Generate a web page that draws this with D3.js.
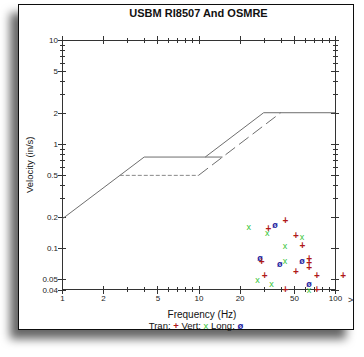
<!DOCTYPE html>
<html><head><meta charset="utf-8">
<script src="https://cdn.jsdelivr.net/npm/d3@7"></script>
<style>
html,body{margin:0;padding:0;background:#fff;}
svg{display:block;font-family:"Liberation Sans",Arial,sans-serif;}
</style></head>
<body>
<svg id="c" width="364" height="357"></svg>
<script>
// ---- data ----
const title = "USBM RI8507 And OSMRE";
const xMajor = [1, 2, 5, 10, 20, 50, 100];
const xMinor = [3, 4, 6, 7, 8, 9, 30, 40, 60, 70, 80, 90];
const yMajor = [10, 5, 2, 1, 0.5, 0.2, 0.1, 0.05, 0.04];
const yMinor = [9, 8, 7, 6, 4, 3, 0.9, 0.8, 0.7, 0.6, 0.4, 0.3];
// criteria curves [freq Hz, velocity in/s]
const solidLower = [[1, 0.19], [4, 0.75], [15, 0.75]];
const solidUpper = [[11.2, 0.75], [30, 2.0], [100, 2.0]];
const dashFlat = [[2.65, 0.5], [10, 0.5]];
const dashDiag = [[10, 0.5], [40, 2.0]];
// measured peaks [freq Hz, velocity in/s]
const tran = [[43.3,0.186],[32.5,0.155],[51.8,0.132],[57.6,0.107],[64.8,0.080],[64.8,0.072],[64.8,0.065],[29,0.075],[51.8,0.060],[30.5,0.055],[73.8,0.055],[115,0.055],[43.3,0.04],[73.8,0.04]];
const vert = [[23.3,0.158],[31.9,0.139],[57.2,0.129],[43,0.105],[43,0.0745],[27,0.0496],[34.2,0.0448],[64.5,0.04]];
const long = [[36.3,0.165],[28.2,0.0796],[39.3,0.0702],[57.2,0.0745],[64.5,0.0448]];

const svg = d3.select("#c");
const defs = svg.append("defs");
const f = defs.append("filter").attr("id","sh").attr("x","-20%").attr("y","-20%").attr("width","140%").attr("height","140%");
f.append("feDropShadow").attr("dx",-8).attr("dy",9).attr("stdDeviation",5).attr("flood-color","#000").attr("flood-opacity",0.6);

svg.append("rect").attr("x",18.5).attr("y",4.5).attr("width",335).attr("height",325)
  .attr("fill","#fff").attr("stroke","#111").attr("stroke-width",1).attr("filter","url(#sh)");

const L=62, R=335, T=40, B=289.5;
const x = d3.scaleLog().domain([1,100]).range([L,R]);
const y = d3.scaleLog().domain([0.04,10]).range([B,T]);

const axCol = "#333";
const g = svg.append("g");
g.append("rect").attr("x",L).attr("y",T).attr("width",R-L).attr("height",B-T)
  .attr("fill","none").attr("stroke",axCol).attr("stroke-width",1).attr("shape-rendering","crispEdges");

function crossTicks(sel, horiz, major) {
  const len = major ? 4 : 2.5;
  sel.selectAll("line").attr(horiz ? "y1" : "x1", -len).attr(horiz ? "y2" : "x2", len)
     .attr("stroke", axCol).attr("shape-rendering","crispEdges");
  sel.select(".domain").remove();
}
const xb = g.append("g").attr("transform",`translate(0,${B})`)
  .call(d3.axisBottom(x).tickValues(xMajor).tickFormat(d3.format("d")).tickSize(4));
crossTicks(xb, true, true);
xb.selectAll("text").attr("y",6).attr("font-size",8).attr("fill","#222");
const xbm = g.append("g").attr("transform",`translate(0,${B})`)
  .call(d3.axisBottom(x).tickValues(xMinor).tickFormat("").tickSize(3));
crossTicks(xbm, true, false);
const xt = g.append("g").attr("transform",`translate(0,${T})`)
  .call(d3.axisTop(x).tickValues(xMajor).tickFormat("").tickSize(4));
crossTicks(xt, true, true);
const xtm = g.append("g").attr("transform",`translate(0,${T})`)
  .call(d3.axisTop(x).tickValues(xMinor).tickFormat("").tickSize(3));
crossTicks(xtm, true, false);
const yl = g.append("g").attr("transform",`translate(${L},0)`)
  .call(d3.axisLeft(y).tickValues(yMajor).tickFormat(d=>String(d)).tickSize(4));
crossTicks(yl, false, true);
yl.selectAll("text").attr("x",-4).attr("font-size",8).attr("fill","#222");
const ylm = g.append("g").attr("transform",`translate(${L},0)`)
  .call(d3.axisLeft(y).tickValues(yMinor).tickFormat("").tickSize(3));
crossTicks(ylm, false, false);
const yr = g.append("g").attr("transform",`translate(${R},0)`)
  .call(d3.axisRight(y).tickValues(yMajor).tickFormat("").tickSize(4));
crossTicks(yr, false, true);
const yrm = g.append("g").attr("transform",`translate(${R},0)`)
  .call(d3.axisRight(y).tickValues(yMinor).tickFormat("").tickSize(3));
crossTicks(yrm, false, false);

svg.append("text").attr("x",x(100)+13).attr("y",B+13).attr("font-size",9).attr("fill","#222").text(">");

// criteria lines
const line = d3.line().x(d=>x(d[0])).y(d=>y(d[1]));
const lc = "#6e6e6e";
[solidLower, solidUpper].forEach(d=>svg.append("path").attr("d",line(d)).attr("fill","none").attr("stroke",lc).attr("stroke-width",1));
svg.append("path").attr("d",line(dashFlat)).attr("fill","none").attr("stroke","#888").attr("stroke-width",1).attr("stroke-dasharray","4,2");
svg.append("path").attr("d",line(dashDiag)).attr("fill","none").attr("stroke",lc).attr("stroke-width",1).attr("stroke-dasharray","12,5");

// markers as text glyphs
const cTran = "#b01818", cVert = "#33c433", cLong = "#1a1aa0";
function pts(data, ch, col, fs, wt) {
  svg.append("g").selectAll("text").data(data).join("text")
    .attr("x",d=>x(d[0])).attr("y",d=>y(d[1]))
    .attr("text-anchor","middle").attr("dominant-baseline","central")
    .attr("font-size",fs).attr("font-weight",wt).attr("fill",col).text(ch);
}
pts(vert, "x", cVert, 9, "normal");
pts(long, "ø", cLong, 9, "bold");
pts(tran, "+", cTran, 10, "bold");

// titles
svg.append("text").attr("x",(L+R)/2).attr("y",17).attr("text-anchor","middle")
  .attr("font-size",11).attr("font-weight","bold").attr("fill","#111").text(title);
svg.append("text").attr("transform",`translate(33,${(T+B)/2}) rotate(-90)`).attr("text-anchor","middle")
  .attr("font-size",9.5).attr("fill","#111").text("Velocity (in/s)");
svg.append("text").attr("x",202).attr("y",318).attr("text-anchor","middle")
  .attr("font-size",10).attr("fill","#111").text("Frequency (Hz)");
const leg = svg.append("text").attr("x",196).attr("y",329).attr("text-anchor","middle").attr("font-size",9.5).attr("fill","#111");
leg.append("tspan").text("Tran: ");
leg.append("tspan").attr("fill",cTran).attr("font-weight","bold").text("+");
leg.append("tspan").text(" Vert: ");
leg.append("tspan").attr("fill",cVert).text("x");
leg.append("tspan").text("  Long: ");
leg.append("tspan").attr("fill",cLong).attr("font-weight","bold").text("ø");
</script>
</body></html>
